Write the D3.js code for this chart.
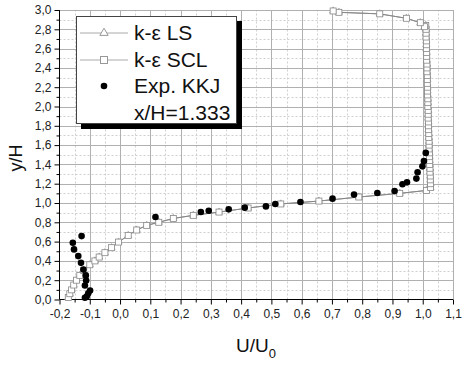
<!DOCTYPE html>
<html><head><meta charset="utf-8">
<script src="https://cdn.jsdelivr.net/npm/d3@7"></script>
<style>body{margin:0;background:#fff;}svg{display:block;font-family:"Liberation Sans",Arial,sans-serif;}</style>
</head><body><svg id="c" width="462" height="369"></svg>
<script>
// ---- data ----
const xTicks = [-0.2,-0.1,0.0,0.1,0.2,0.3,0.4,0.5,0.6,0.7,0.8,0.9,1.0,1.1];
const yTicks = [0.0,0.2,0.4,0.6,0.8,1.0,1.2,1.4,1.6,1.8,2.0,2.2,2.4,2.6,2.8,3.0];
const sclU = [-0.171,-0.166,-0.160,-0.153,-0.144,-0.133,-0.120,-0.100,-0.083,-0.069,-0.050,-0.028,-0.005,0.027,0.055,0.088,0.128,0.176,0.242,0.327,0.423,0.531,0.657,0.789,0.924,1.012,
  1.026,1.026,1.025,1.025,1.024,1.024,1.023,1.023,1.022,1.022,1.021,1.021,1.021,1.020,1.020,1.019,1.019,1.019,1.018,1.018,1.018,1.017,1.017,1.017,1.016,1.016,1.016,1.015,1.015,1.015,1.014,1.014,1.014,1.013,1.013,1.013,1.012,1.012,1.012,1.011,1.011,1.011,1.010,
  1.006,0.992,0.946,0.858,0.723,0.704];
const sclY = [0.02,0.06,0.10,0.15,0.20,0.25,0.30,0.36,0.40,0.44,0.485,0.537,0.595,0.664,0.72,0.768,0.80,0.84,0.872,0.906,0.948,0.99,1.02,1.062,1.10,1.13,
  1.16,1.20,1.24,1.28,1.32,1.36,1.40,1.44,1.48,1.52,1.56,1.60,1.64,1.68,1.72,1.76,1.80,1.84,1.88,1.92,1.96,2.00,2.04,2.08,2.12,2.16,2.20,2.24,2.28,2.32,2.36,2.40,2.44,2.48,2.52,2.56,2.60,2.64,2.68,2.72,2.76,2.80,2.84,
  2.827,2.868,2.914,2.96,2.976,2.99];
const lsU = sclU.slice();
const lsY = sclY.slice();
const expU = [-0.116,-0.110,-0.105,-0.099,-0.116,-0.112,-0.113,-0.121,-0.129,-0.138,-0.152,-0.156,-0.127,0.117,0.267,0.293,0.359,0.412,0.482,0.513,0.596,0.702,0.773,0.850,0.907,0.933,0.948,0.979,0.983,0.999,1.004,1.010];
const expY = [0.018,0.031,0.065,0.093,0.145,0.197,0.25,0.31,0.38,0.45,0.519,0.588,0.657,0.855,0.906,0.92,0.934,0.952,0.965,0.99,1.01,1.045,1.087,1.104,1.124,1.194,1.214,1.253,1.318,1.38,1.436,1.519];
const legendLabels = ["k-\u03b5 LS","k-\u03b5 SCL","Exp. KKJ","x/H=1.333"];

// ---- chart ----
const svg = d3.select("#c");
const x = d3.scaleLinear().domain([-0.2,1.1]).range([59.5,453]);
const y = d3.scaleLinear().domain([0,3]).range([299.5,10]);
const fmt = d => d3.format(".1f")(d).replace(".",",").replace("\u2212","-");

// grid
const g = svg.append("g");
const xMinor = d3.range(-0.15,1.1,0.1);
const yMinor = d3.range(0.1,3.0,0.2);
g.selectAll(".xm").data(xMinor).join("line").attr("x1",d=>Math.round(x(d))+0.5).attr("x2",d=>Math.round(x(d))+0.5)
  .attr("y1",y(0)).attr("y2",y(3)).attr("stroke","#cfcfcf").attr("stroke-dasharray","2,2");
g.selectAll(".ym").data(yMinor).join("line").attr("y1",d=>Math.round(y(d))+0.5).attr("y2",d=>Math.round(y(d))+0.5)
  .attr("x1",x(-0.2)).attr("x2",x(1.1)).attr("stroke","#cfcfcf").attr("stroke-dasharray","2,2");
g.selectAll(".xM").data(xTicks.slice(1)).join("line").attr("x1",d=>Math.round(x(d))+0.5).attr("x2",d=>Math.round(x(d))+0.5)
  .attr("y1",y(0)).attr("y2",y(3)).attr("stroke","#b0b0b0");
g.selectAll(".yM").data(yTicks.slice(1)).join("line").attr("y1",d=>Math.round(y(d))+0.5).attr("y2",d=>Math.round(y(d))+0.5)
  .attr("x1",x(-0.2)).attr("x2",x(1.1)).attr("stroke","#b0b0b0");

// axes
const xAxis = d3.axisBottom(x).tickValues(xTicks).tickFormat(fmt).tickSize(5).tickPadding(5);
const xAxisMinor = d3.axisBottom(x).tickValues(xMinor).tickFormat("").tickSize(3);
const yAxis = d3.axisLeft(y).tickValues(yTicks).tickFormat(fmt).tickSize(5).tickPadding(3);
const yAxisMinor = d3.axisLeft(y).tickValues(yMinor).tickFormat("").tickSize(3);
function style(sel){
  sel.select(".domain").attr("stroke","#000");
  sel.selectAll(".tick line").attr("stroke","#000");
  sel.selectAll("text").attr("fill","#222").style("font-size","12px").style("font-family","'Liberation Sans',Arial,sans-serif");
}
svg.append("g").attr("transform",`translate(0,${y(0)})`).call(xAxisMinor).call(style).select(".domain").remove();
svg.append("g").attr("transform",`translate(${x(-0.2)},0)`).call(yAxisMinor).call(style).select(".domain").remove();
svg.append("g").attr("transform",`translate(0,${y(0)})`).call(xAxis).call(style).call(s=>s.select(".domain").attr("d",`M${x(-0.2)},0H${x(1.1)}`));
svg.append("g").attr("transform",`translate(${x(-0.2)},0)`).call(yAxis).call(style).call(s=>s.select(".domain").attr("d",`M0,${y(0)}V${y(3)}`));

// axis titles
svg.append("text").attr("transform","translate(22,158) rotate(-90)").attr("text-anchor","middle")
  .style("font-size","18px").attr("fill","#111").text("y/H");
const xt = svg.append("text").attr("x",236).attr("y",352).style("font-size","19px").attr("fill","#111");
xt.append("tspan").text("U/U");
xt.append("tspan").attr("dy",6).style("font-size","13px").text("0");

// series
const line = d3.line().x(d=>x(d[0])).y(d=>y(d[1]));
const lsPts = lsU.map((u,i)=>[u,lsY[i]]);
const sclPts = sclU.map((u,i)=>[u,sclY[i]]);
const expPts = expU.map((u,i)=>[u,expY[i]]);
svg.append("path").datum(lsPts).attr("d",line).attr("fill","none").attr("stroke","#999").attr("stroke-width",1);
svg.append("path").datum(sclPts).attr("d",line).attr("fill","none").attr("stroke","#888").attr("stroke-width",1);
const tri = d3.symbol().type(d3.symbolTriangle).size(22);
svg.append("g").selectAll("path").data(lsPts).join("path").attr("d",tri)
  .attr("transform",d=>`translate(${x(d[0])},${y(d[1])})`).attr("fill","#fff").attr("stroke","#999").attr("stroke-width",0.8);
svg.append("g").selectAll("rect").data(sclPts).join("rect")
  .attr("x",d=>x(d[0])-3).attr("y",d=>y(d[1])-3).attr("width",6).attr("height",6)
  .attr("fill","#fff").attr("stroke","#888").attr("stroke-width",0.8);
svg.append("g").selectAll("circle").data(expPts).join("circle")
  .attr("cx",d=>x(d[0])).attr("cy",d=>y(d[1])).attr("r",3.3).attr("fill","#000");

// legend
const lg = svg.append("g");
lg.append("rect").attr("x",81).attr("y",21).attr("width",161).attr("height",108).attr("fill","#000");
lg.append("rect").attr("x",76.5).attr("y",16.5).attr("width",160).attr("height",107).attr("fill","#fff").attr("stroke","#444").attr("stroke-width",1);
const rows = [33,60,86,113];
[0,1].forEach(i=>lg.append("line").attr("x1",80).attr("x2",128).attr("y1",rows[i]).attr("y2",rows[i]).attr("stroke","#aaa"));
lg.append("path").attr("d",d3.symbol().type(d3.symbolTriangle).size(30)).attr("transform",`translate(104,${rows[0]})`)
  .attr("fill","#fff").attr("stroke","#999");
lg.append("rect").attr("x",100.5).attr("y",rows[1]-3.5).attr("width",7).attr("height",7).attr("fill","#fff").attr("stroke","#999");
lg.append("circle").attr("cx",104).attr("cy",rows[2]).attr("r",3.3).attr("fill","#000");
lg.selectAll(".lt").data(legendLabels).join("text").attr("x",134).attr("y",(d,i)=>rows[i]+7)
  .style("font-size","21px").attr("fill","#111").text(d=>d);
</script></body></html>
